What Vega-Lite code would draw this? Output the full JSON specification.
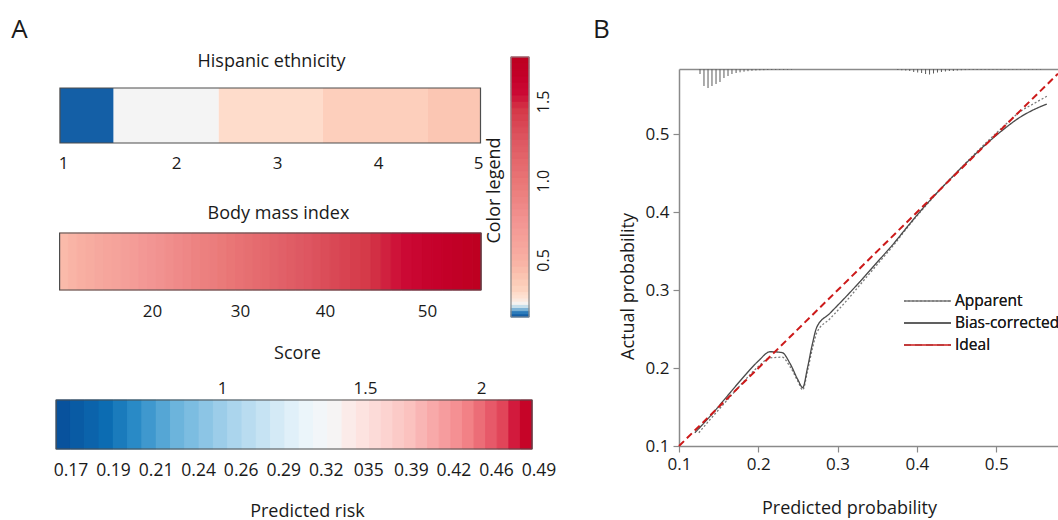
{
"$schema": "https://vega.github.io/schema/vega-lite/v6.json",
"width": 1058, "height": 520,
"autosize": {"type": "none"},
"padding": 0,
"background": "white",
"datasets": {
 "hispanic": [
  {"cat":1,"x0":0.973,"x1":1.448,"v":0.15},
  {"cat":2,"x0":1.448,"x1":2.423,"v":0.225},
  {"cat":3,"x0":2.423,"x1":3.455,"v":0.29},
  {"cat":4,"x0":3.455,"x1":4.5,"v":0.34},
  {"cat":5,"x0":4.5,"x1":5.025,"v":0.39}
 ],
 "bmi": [
  {"bmi":10,"x0":9.5,"x1":10.5,"v":0.45},{"bmi":11,"x0":10.5,"x1":11.5,"v":0.48},{"bmi":12,"x0":11.5,"x1":12.5,"v":0.51},
  {"bmi":13,"x0":12.5,"x1":13.5,"v":0.54},{"bmi":14,"x0":13.5,"x1":14.5,"v":0.57},{"bmi":15,"x0":14.5,"x1":15.5,"v":0.60},
  {"bmi":16,"x0":15.5,"x1":16.5,"v":0.62},{"bmi":17,"x0":16.5,"x1":17.5,"v":0.65},{"bmi":18,"x0":17.5,"x1":18.5,"v":0.68},
  {"bmi":19,"x0":18.5,"x1":19.5,"v":0.71},{"bmi":20,"x0":19.5,"x1":20.5,"v":0.74},{"bmi":21,"x0":20.5,"x1":21.5,"v":0.77},
  {"bmi":22,"x0":21.5,"x1":22.5,"v":0.80},{"bmi":23,"x0":22.5,"x1":23.5,"v":0.83},{"bmi":24,"x0":23.5,"x1":24.5,"v":0.86},
  {"bmi":25,"x0":24.5,"x1":25.5,"v":0.89},{"bmi":26,"x0":25.5,"x1":26.5,"v":0.92},{"bmi":27,"x0":26.5,"x1":27.5,"v":0.94},
  {"bmi":28,"x0":27.5,"x1":28.5,"v":0.97},{"bmi":29,"x0":28.5,"x1":29.5,"v":1.00},{"bmi":30,"x0":29.5,"x1":30.5,"v":1.03},
  {"bmi":31,"x0":30.5,"x1":31.5,"v":1.06},{"bmi":32,"x0":31.5,"x1":32.5,"v":1.09},{"bmi":33,"x0":32.5,"x1":33.5,"v":1.12},
  {"bmi":34,"x0":33.5,"x1":34.5,"v":1.15},{"bmi":35,"x0":34.5,"x1":35.5,"v":1.18},{"bmi":36,"x0":35.5,"x1":36.5,"v":1.21},
  {"bmi":37,"x0":36.5,"x1":37.5,"v":1.24},{"bmi":38,"x0":37.5,"x1":38.5,"v":1.26},{"bmi":39,"x0":38.5,"x1":39.5,"v":1.29},
  {"bmi":40,"x0":39.5,"x1":40.5,"v":1.32},{"bmi":41,"x0":40.5,"x1":41.5,"v":1.35},{"bmi":42,"x0":41.5,"x1":42.5,"v":1.38},
  {"bmi":43,"x0":42.5,"x1":43.5,"v":1.41},{"bmi":44,"x0":43.5,"x1":44.5,"v":1.44},{"bmi":45,"x0":44.5,"x1":45.5,"v":1.47},
  {"bmi":46,"x0":45.5,"x1":46.5,"v":1.50},{"bmi":47,"x0":46.5,"x1":47.5,"v":1.53},{"bmi":48,"x0":47.5,"x1":48.5,"v":1.56},
  {"bmi":49,"x0":48.5,"x1":49.5,"v":1.59},{"bmi":50,"x0":49.5,"x1":50.5,"v":1.62},{"bmi":51,"x0":50.5,"x1":51.5,"v":1.64},
  {"bmi":52,"x0":51.5,"x1":52.5,"v":1.67},{"bmi":53,"x0":52.5,"x1":53.5,"v":1.70},{"bmi":54,"x0":53.5,"x1":54.5,"v":1.73},
  {"bmi":55,"x0":54.5,"x1":55.3,"v":1.76}
 ],
 "score": [
  {"s0":0.42,"s1":0.47,"score":0.445},{"s0":0.47,"s1":0.52,"score":0.495},{"s0":0.52,"s1":0.57,"score":0.545},
  {"s0":0.57,"s1":0.62,"score":0.595},{"s0":0.62,"s1":0.67,"score":0.645},{"s0":0.67,"s1":0.72,"score":0.695},
  {"s0":0.72,"s1":0.77,"score":0.745},{"s0":0.77,"s1":0.82,"score":0.795},{"s0":0.82,"s1":0.87,"score":0.845},
  {"s0":0.87,"s1":0.92,"score":0.895},{"s0":0.92,"s1":0.97,"score":0.945},{"s0":0.97,"s1":1.02,"score":0.995},
  {"s0":1.02,"s1":1.07,"score":1.045},{"s0":1.07,"s1":1.12,"score":1.095},{"s0":1.12,"s1":1.17,"score":1.145},
  {"s0":1.17,"s1":1.22,"score":1.195},{"s0":1.22,"s1":1.27,"score":1.245},{"s0":1.27,"s1":1.32,"score":1.295},
  {"s0":1.32,"s1":1.37,"score":1.345},{"s0":1.37,"s1":1.42,"score":1.395},{"s0":1.42,"s1":1.47,"score":1.445},
  {"s0":1.47,"s1":1.52,"score":1.495},{"s0":1.52,"s1":1.57,"score":1.545},{"s0":1.57,"s1":1.62,"score":1.595},
  {"s0":1.62,"s1":1.67,"score":1.645},{"s0":1.67,"s1":1.72,"score":1.695},{"s0":1.72,"s1":1.77,"score":1.745},
  {"s0":1.77,"s1":1.82,"score":1.795},{"s0":1.82,"s1":1.87,"score":1.845},{"s0":1.87,"s1":1.92,"score":1.895},
  {"s0":1.92,"s1":1.97,"score":1.945},{"s0":1.97,"s1":2.02,"score":1.995},{"s0":2.02,"s1":2.07,"score":2.045},
  {"s0":2.07,"s1":2.12,"score":2.095},{"s0":2.12,"s1":2.17,"score":2.145},{"s0":2.17,"s1":2.22,"score":2.195}
 ],
 "risk": [
  {"risk":"0.17"},{"risk":"0.19"},{"risk":"0.21"},{"risk":"0.24"},{"risk":"0.26"},{"risk":"0.29"},
  {"risk":"0.32"},{"risk":"035"},{"risk":"0.39"},{"risk":"0.42"},{"risk":"0.46"},{"risk":"0.49"}
 ],
 "legendbar": [
  {"lo":0.14,"hi":0.16,"v":0.15},{"lo":0.16,"hi":0.18,"v":0.17},{"lo":0.18,"hi":0.20,"v":0.19},{"lo":0.20,"hi":0.22,"v":0.21},
  {"lo":0.22,"hi":0.24,"v":0.23},{"lo":0.24,"hi":0.26,"v":0.25},{"lo":0.26,"hi":0.28,"v":0.27},{"lo":0.28,"hi":0.30,"v":0.29},
  {"lo":0.30,"hi":0.34,"v":0.32},{"lo":0.34,"hi":0.38,"v":0.36},{"lo":0.38,"hi":0.42,"v":0.40},{"lo":0.42,"hi":0.46,"v":0.44},
  {"lo":0.46,"hi":0.50,"v":0.48},{"lo":0.50,"hi":0.54,"v":0.52},{"lo":0.54,"hi":0.58,"v":0.56},{"lo":0.58,"hi":0.62,"v":0.60},
  {"lo":0.62,"hi":0.66,"v":0.64},{"lo":0.66,"hi":0.70,"v":0.68},{"lo":0.70,"hi":0.74,"v":0.72},{"lo":0.74,"hi":0.78,"v":0.76},
  {"lo":0.78,"hi":0.82,"v":0.80},{"lo":0.82,"hi":0.86,"v":0.84},{"lo":0.86,"hi":0.90,"v":0.88},{"lo":0.90,"hi":0.94,"v":0.92},
  {"lo":0.94,"hi":0.98,"v":0.96},{"lo":0.98,"hi":1.02,"v":1.00},{"lo":1.02,"hi":1.06,"v":1.04},{"lo":1.06,"hi":1.10,"v":1.08},
  {"lo":1.10,"hi":1.14,"v":1.12},{"lo":1.14,"hi":1.18,"v":1.16},{"lo":1.18,"hi":1.22,"v":1.20},{"lo":1.22,"hi":1.26,"v":1.24},
  {"lo":1.26,"hi":1.30,"v":1.28},{"lo":1.30,"hi":1.34,"v":1.32},{"lo":1.34,"hi":1.38,"v":1.36},{"lo":1.38,"hi":1.42,"v":1.40},
  {"lo":1.42,"hi":1.46,"v":1.44},{"lo":1.46,"hi":1.50,"v":1.48},{"lo":1.50,"hi":1.54,"v":1.52},{"lo":1.54,"hi":1.58,"v":1.56},
  {"lo":1.58,"hi":1.62,"v":1.60},{"lo":1.62,"hi":1.66,"v":1.64},{"lo":1.66,"hi":1.70,"v":1.68},{"lo":1.70,"hi":1.74,"v":1.72},
  {"lo":1.74,"hi":1.78,"v":1.76}
 ],
 "calib": [
  {"series":"Apparent","pred":0.125,"obs":0.117},{"series":"Apparent","pred":0.14,"obs":0.135},{"series":"Apparent","pred":0.16,"obs":0.158},
  {"series":"Apparent","pred":0.18,"obs":0.181},{"series":"Apparent","pred":0.20,"obs":0.202},{"series":"Apparent","pred":0.215,"obs":0.213},
  {"series":"Apparent","pred":0.23,"obs":0.214},{"series":"Apparent","pred":0.24,"obs":0.202},{"series":"Apparent","pred":0.25,"obs":0.183},
  {"series":"Apparent","pred":0.256,"obs":0.172},{"series":"Apparent","pred":0.262,"obs":0.196},{"series":"Apparent","pred":0.268,"obs":0.224},
  {"series":"Apparent","pred":0.274,"obs":0.246},{"series":"Apparent","pred":0.29,"obs":0.263},{"series":"Apparent","pred":0.31,"obs":0.285},
  {"series":"Apparent","pred":0.33,"obs":0.309},{"series":"Apparent","pred":0.35,"obs":0.333},{"series":"Apparent","pred":0.37,"obs":0.357},
  {"series":"Apparent","pred":0.39,"obs":0.383},{"series":"Apparent","pred":0.41,"obs":0.407},{"series":"Apparent","pred":0.43,"obs":0.430},
  {"series":"Apparent","pred":0.45,"obs":0.451},{"series":"Apparent","pred":0.47,"obs":0.472},{"series":"Apparent","pred":0.49,"obs":0.492},
  {"series":"Apparent","pred":0.51,"obs":0.511},{"series":"Apparent","pred":0.53,"obs":0.529},{"series":"Apparent","pred":0.55,"obs":0.541},
  {"series":"Apparent","pred":0.564,"obs":0.549},
  {"series":"Bias-corrected","pred":0.12,"obs":0.117},{"series":"Bias-corrected","pred":0.14,"obs":0.139},{"series":"Bias-corrected","pred":0.16,"obs":0.163},
  {"series":"Bias-corrected","pred":0.18,"obs":0.187},{"series":"Bias-corrected","pred":0.20,"obs":0.209},{"series":"Bias-corrected","pred":0.215,"obs":0.221},
  {"series":"Bias-corrected","pred":0.23,"obs":0.220},{"series":"Bias-corrected","pred":0.24,"obs":0.206},{"series":"Bias-corrected","pred":0.25,"obs":0.185},
  {"series":"Bias-corrected","pred":0.256,"obs":0.175},{"series":"Bias-corrected","pred":0.262,"obs":0.200},{"series":"Bias-corrected","pred":0.268,"obs":0.230},
  {"series":"Bias-corrected","pred":0.274,"obs":0.253},{"series":"Bias-corrected","pred":0.29,"obs":0.270},{"series":"Bias-corrected","pred":0.31,"obs":0.291},
  {"series":"Bias-corrected","pred":0.33,"obs":0.313},{"series":"Bias-corrected","pred":0.35,"obs":0.336},{"series":"Bias-corrected","pred":0.37,"obs":0.359},
  {"series":"Bias-corrected","pred":0.39,"obs":0.384},{"series":"Bias-corrected","pred":0.41,"obs":0.408},{"series":"Bias-corrected","pred":0.43,"obs":0.430},
  {"series":"Bias-corrected","pred":0.45,"obs":0.451},{"series":"Bias-corrected","pred":0.47,"obs":0.471},{"series":"Bias-corrected","pred":0.49,"obs":0.490},
  {"series":"Bias-corrected","pred":0.51,"obs":0.507},{"series":"Bias-corrected","pred":0.53,"obs":0.522},{"series":"Bias-corrected","pred":0.55,"obs":0.533},
  {"series":"Bias-corrected","pred":0.564,"obs":0.539}
 ],
 "ideal": [
  {"series":"Ideal","pred":0.1,"obs":0.1},{"series":"Ideal","pred":0.578,"obs":0.578}
 ],
 "rug": [
  {"pos":0.1265,"freq":5},{"pos":0.1315,"freq":17},{"pos":0.1366,"freq":19},{"pos":0.1416,"freq":17},{"pos":0.1467,"freq":15},
  {"pos":0.1517,"freq":13},{"pos":0.1567,"freq":9},{"pos":0.1618,"freq":7},{"pos":0.1668,"freq":5},{"pos":0.172,"freq":4},
  {"pos":0.177,"freq":3.3},{"pos":0.182,"freq":2.7},{"pos":0.187,"freq":2.2},{"pos":0.192,"freq":1.8},{"pos":0.197,"freq":1.5},
  {"pos":0.202,"freq":1.3},{"pos":0.207,"freq":1.2},{"pos":0.212,"freq":1},{"pos":0.217,"freq":1},{"pos":0.222,"freq":0.9},
  {"pos":0.227,"freq":0.8},{"pos":0.232,"freq":0.8},{"pos":0.237,"freq":0.7},{"pos":0.242,"freq":0.6},
  {"pos":0.376,"freq":1},{"pos":0.381,"freq":1.3},{"pos":0.386,"freq":1.6},{"pos":0.391,"freq":2},{"pos":0.396,"freq":3},
  {"pos":0.401,"freq":3.5},{"pos":0.406,"freq":4},{"pos":0.411,"freq":5},{"pos":0.416,"freq":5.5},{"pos":0.421,"freq":4.5},
  {"pos":0.426,"freq":3.5},{"pos":0.431,"freq":3},{"pos":0.436,"freq":2.5},{"pos":0.441,"freq":2},{"pos":0.446,"freq":2},
  {"pos":0.451,"freq":1.6},{"pos":0.456,"freq":1.3},{"pos":0.461,"freq":1.1},{"pos":0.466,"freq":1},{"pos":0.471,"freq":0.9},
  {"pos":0.476,"freq":0.9},{"pos":0.481,"freq":0.8},{"pos":0.486,"freq":0.8},{"pos":0.491,"freq":0.8},{"pos":0.496,"freq":0.7},
  {"pos":0.501,"freq":0.7},{"pos":0.506,"freq":0.7},{"pos":0.511,"freq":0.6},{"pos":0.516,"freq":0.6},{"pos":0.521,"freq":0.6},
  {"pos":0.526,"freq":0.6},{"pos":0.531,"freq":0.5},{"pos":0.536,"freq":0.5},{"pos":0.541,"freq":0.5},{"pos":0.546,"freq":0.5},
  {"pos":0.551,"freq":0.5},{"pos":0.556,"freq":0.5}
 ]
},
"layer": [
 {
  "data": {"name": "hispanic"},
  "layer": [
   {"mark": {"type": "rect", "strokeWidth": 1},
    "encoding": {
     "x": {"field": "x0", "type": "quantitative",
       "scale": {"domain": [1,2,3,4,5], "range": [63,176,277,378,478], "nice": false, "zero": false},
       "axis": {"orient": "bottom", "offset": -357, "values": [1,2,3,4,5], "format": "d", "domain": false, "ticks": false,
         "labelPadding": 0, "labelBaseline": "middle", "labelFlush": false,
         "title": "Hispanic ethnicity", "titleX": 271, "titleY": -102, "titleBaseline": "middle", "titleAlign": "center"}},
     "x2": {"field": "x1"},
     "y": {"datum": 0, "type": "quantitative", "scale": {"domain": [0,1], "range": [143,88], "nice": false, "zero": false},
       "axis": {"orient": "left", "offset": 0, "labels": false, "ticks": false, "domain": false,
         "title": "A", "titleX": 19, "titleY": 29, "titleAngle": 0, "titleFontSize": 26, "titleBaseline": "middle", "titleAlign": "center"}},
     "y2": {"datum": 1},
     "color": {"field": "v", "type": "quantitative",
       "scale": {"domain": [0.14,0.17,0.2,0.225,0.26,0.32,0.4,0.5,0.75,1.0,1.25,1.45,1.55,1.65,1.78],
                 "range": ["#08519c","#2b7bba","#a7cfe4","#f4f4f4","#fee4d6","#fdd3bf","#fbc4b1","#f8b0a3","#f29492","#e97676","#de5862","#d43848","#cc0a35","#c4002a","#bd001f"],
                 "interpolate": "rgb"},
       "legend": null}
    }},
   {"mark": {"type": "rect", "fill": "transparent", "stroke": "#4d4d4d", "strokeWidth": 1.2},
    "encoding": {
     "x": {"aggregate": "min", "field": "x0", "type": "quantitative"},
     "x2": {"aggregate": "max", "field": "x1"},
     "y": {"datum": 0, "type": "quantitative"},
     "y2": {"datum": 1}
    }}
  ]
 },
 {
  "data": {"name": "bmi"},
  "layer": [
   {"mark": {"type": "rect", "strokeWidth": 1},
    "encoding": {
     "x": {"field": "x0", "type": "quantitative",
       "scale": {"domain": [20,30,40,50], "range": [152,240,325,427], "nice": false, "zero": false},
       "axis": {"orient": "bottom", "offset": -209, "values": [20,30,40,50], "format": "d", "domain": false, "ticks": false,
         "labelPadding": 0, "labelBaseline": "middle", "labelFlush": false,
         "title": "Body mass index", "titleX": 278, "titleY": -98, "titleBaseline": "middle", "titleAlign": "center"}},
     "x2": {"field": "x1"},
     "y": {"datum": 0, "type": "quantitative", "scale": {"domain": [0,1], "range": [290,233], "nice": false, "zero": false}, "axis": null},
     "y2": {"datum": 1},
     "color": {"field": "v", "type": "quantitative",
       "scale": {"domain": [0.14,0.17,0.2,0.225,0.26,0.32,0.4,0.5,0.75,1.0,1.25,1.45,1.55,1.65,1.78],
                 "range": ["#08519c","#2b7bba","#a7cfe4","#f4f4f4","#fee4d6","#fdd3bf","#fbc4b1","#f8b0a3","#f29492","#e97676","#de5862","#d43848","#cc0a35","#c4002a","#bd001f"],
                 "interpolate": "rgb"},
       "legend": null},
     "stroke": {"field": "v", "type": "quantitative",
       "scale": {"domain": [0.14,0.17,0.2,0.225,0.26,0.32,0.4,0.5,0.75,1.0,1.25,1.45,1.55,1.65,1.78],
                 "range": ["#08519c","#2b7bba","#a7cfe4","#f4f4f4","#fee4d6","#fdd3bf","#fbc4b1","#f8b0a3","#f29492","#e97676","#de5862","#d43848","#cc0a35","#c4002a","#bd001f"],
                 "interpolate": "rgb"},
       "legend": null}
    }},
   {"mark": {"type": "rect", "fill": "transparent", "stroke": "#4d4d4d", "strokeWidth": 1.2},
    "encoding": {
     "x": {"aggregate": "min", "field": "x0", "type": "quantitative"},
     "x2": {"aggregate": "max", "field": "x1"},
     "y": {"datum": 0, "type": "quantitative", "axis": null},
     "y2": {"datum": 1}
    }}
  ]
 },
 {
  "data": {"name": "score"},
  "layer": [
   {"mark": {"type": "rect", "strokeWidth": 1},
    "encoding": {
     "x": {"field": "s0", "type": "quantitative",
       "scale": {"domain": [1,1.5,2], "range": [222,365,481], "nice": false, "zero": false},
       "axis": {"orient": "top", "offset": -388, "values": [1,1.5,2], "format": "~g", "domain": false, "ticks": false,
         "labelPadding": 0, "labelBaseline": "middle", "labelFlush": false,
         "title": "Score", "titleX": 297, "titleY": -35, "titleBaseline": "middle", "titleAlign": "center"}},
     "x2": {"field": "s1"},
     "y": {"datum": 0, "type": "quantitative", "scale": {"domain": [0,1], "range": [449,400], "nice": false, "zero": false}, "axis": null},
     "y2": {"datum": 1},
     "color": {"field": "score", "type": "quantitative",
       "scale": {"domain": [0.44,0.6,0.7,0.85,1.03,1.22,1.32,1.39,1.47,1.69,1.93,2.11,2.16,2.22],
                 "range": ["#08519c","#0c6db3","#2b8cc7","#6eb5dd","#a7d3ec","#dbeef8","#f0f7fb","#f5f5f5","#fde7e4","#fbc3c0","#f4878b","#df3f55","#cc0a33","#c20020"],
                 "interpolate": "rgb"},
       "legend": null},
     "stroke": {"field": "score", "type": "quantitative",
       "scale": {"domain": [0.44,0.6,0.7,0.85,1.03,1.22,1.32,1.39,1.47,1.69,1.93,2.11,2.16,2.22],
                 "range": ["#08519c","#0c6db3","#2b8cc7","#6eb5dd","#a7d3ec","#dbeef8","#f0f7fb","#f5f5f5","#fde7e4","#fbc3c0","#f4878b","#df3f55","#cc0a33","#c20020"],
                 "interpolate": "rgb"},
       "legend": null}
    }},
   {"mark": {"type": "rect", "fill": "transparent", "stroke": "#4d4d4d", "strokeWidth": 1.2},
    "encoding": {
     "x": {"aggregate": "min", "field": "s0", "type": "quantitative"},
     "x2": {"aggregate": "max", "field": "s1"},
     "y": {"datum": 0, "type": "quantitative", "axis": null},
     "y2": {"datum": 1}
    }}
  ]
 },
 {
  "data": {"name": "risk"},
  "mark": {"type": "text", "fontSize": 17.5, "align": "center", "baseline": "middle", "color": "#1a1a1a"},
  "encoding": {
   "x": {"field": "risk", "type": "ordinal", "sort": null,
     "scale": {"type": "point", "range": [71,539], "padding": 0},
     "axis": {"orient": "bottom", "offset": -49, "labels": false, "ticks": false, "domain": false,
       "title": "Predicted risk", "titleX": 307, "titleY": 40, "titleBaseline": "middle", "titleAlign": "center"}},
   "y": {"datum": 0.5, "type": "quantitative", "scale": {"domain": [0,1], "range": [481,461], "nice": false, "zero": false}, "axis": null},
   "text": {"field": "risk"}
  }
 },
 {
  "data": {"name": "legendbar"},
  "layer": [
   {"mark": {"type": "rect", "strokeWidth": 1},
    "encoding": {
     "x": {"datum": 0, "type": "quantitative", "scale": {"domain": [0,1], "range": [511,529], "nice": false, "zero": false}, "axis": null},
     "x2": {"datum": 1},
     "y": {"field": "lo", "type": "quantitative",
       "scale": {"domain": [0.14,1.78], "range": [317,57], "nice": false, "zero": false},
       "axis": {"orient": "right", "offset": -529, "values": [0.5,1,1.5], "format": ".1f", "domain": false, "ticks": false,
         "labelAngle": -90, "labelAlign": "center", "labelBaseline": "top", "labelPadding": 6, "labelFontSize": 16,
         "title": "Color legend", "titleAngle": -90, "titleX": -35, "titleY": 190, "titleBaseline": "middle", "titleAlign": "center"}},
     "y2": {"field": "hi"},
     "color": {"field": "v", "type": "quantitative",
       "scale": {"domain": [0.14,0.17,0.2,0.225,0.26,0.32,0.4,0.5,0.75,1.0,1.25,1.45,1.55,1.65,1.78],
                 "range": ["#08519c","#2b7bba","#a7cfe4","#f4f4f4","#fee4d6","#fdd3bf","#fbc4b1","#f8b0a3","#f29492","#e97676","#de5862","#d43848","#cc0a35","#c4002a","#bd001f"],
                 "interpolate": "rgb"},
       "legend": null},
     "stroke": {"field": "v", "type": "quantitative",
       "scale": {"domain": [0.14,0.17,0.2,0.225,0.26,0.32,0.4,0.5,0.75,1.0,1.25,1.45,1.55,1.65,1.78],
                 "range": ["#08519c","#2b7bba","#a7cfe4","#f4f4f4","#fee4d6","#fdd3bf","#fbc4b1","#f8b0a3","#f29492","#e97676","#de5862","#d43848","#cc0a35","#c4002a","#bd001f"],
                 "interpolate": "rgb"},
       "legend": null}
    }},
   {"mark": {"type": "rect", "fill": "transparent", "stroke": "#8a8a8a", "strokeWidth": 1.2},
    "encoding": {
     "x": {"datum": 0, "type": "quantitative", "axis": null},
     "x2": {"datum": 1},
     "y": {"aggregate": "min", "field": "lo", "type": "quantitative"},
     "y2": {"aggregate": "max", "field": "hi"}
    }}
  ]
 },
 {
  "layer": [
   {
    "layer": [
     {"data": {"name": "calib"},
      "mark": {"type": "line", "interpolate": "monotone", "strokeWidth": 1.3, "clip": true},
      "encoding": {
       "x": {"field": "pred", "type": "quantitative",
         "scale": {"domain": [0.1,0.578], "range": [679,1058], "nice": false, "zero": false},
         "axis": {"orient": "bottom", "offset": -74, "values": [0.1,0.2,0.3,0.4,0.5], "format": ".1f",
           "domainColor": "#8a8a8a", "domainWidth": 1.5, "tickColor": "#8a8a8a", "tickWidth": 1.2, "tickSize": 6,
           "labelPadding": 4, "labelFlush": false,
           "title": "Predicted probability", "titleX": 849, "titleY": 62, "titleBaseline": "middle", "titleAlign": "center"}},
       "y": {"field": "obs", "type": "quantitative",
         "scale": {"domain": [0.1,0.584], "range": [446,69], "nice": false, "zero": false},
         "axis": {"orient": "left", "offset": -679, "values": [0.1,0.2,0.3,0.4,0.5], "format": ".1f",
           "domainColor": "#8a8a8a", "domainWidth": 1.5, "tickColor": "#8a8a8a", "tickWidth": 1.2, "tickSize": 6,
           "labelPadding": 4,
           "title": "Actual probability", "titleX": -51, "titleY": 286, "titleAngle": -90, "titleBaseline": "middle", "titleAlign": "center"}},
       "color": {"field": "series", "type": "nominal",
         "scale": {"domain": ["Apparent","Bias-corrected","Ideal"], "range": ["#7a7a7a","#4a4a4a","#cc1a1a"]},
         "legend": {"orient": "none", "legendX": 903, "legendY": 290, "title": null, "symbolType": "stroke", "symbolSize": 2209,
           "symbolStrokeWidth": 1.6, "clipHeight": 22, "rowPadding": 0, "padding": 0, "labelOffset": 3, "labelFontSize": 15.5,
           "labelColor": "#1a1a1a", "labelBaseline": "middle"}},
       "strokeDash": {"field": "series", "type": "nominal",
         "scale": {"domain": ["Apparent","Bias-corrected","Ideal"], "range": [[2,2],[1,0],[7,4]]},
         "legend": {"orient": "none", "legendX": 903, "legendY": 290, "title": null, "symbolType": "stroke", "symbolSize": 2209,
           "symbolStrokeWidth": 1.6, "clipHeight": 22, "rowPadding": 0, "padding": 0, "labelOffset": 3, "labelFontSize": 15.5,
           "labelColor": "#1a1a1a", "labelBaseline": "middle"}}
      }},
     {"data": {"name": "ideal"},
      "mark": {"type": "line", "strokeWidth": 2, "clip": true},
      "encoding": {
       "x": {"field": "pred", "type": "quantitative",
         "scale": {"domain": [0.1,0.578], "range": [679,1058], "nice": false, "zero": false}},
       "y": {"field": "obs", "type": "quantitative",
         "scale": {"domain": [0.1,0.584], "range": [446,69], "nice": false, "zero": false}},
       "color": {"field": "series", "type": "nominal",
         "scale": {"domain": ["Apparent","Bias-corrected","Ideal"], "range": ["#7a7a7a","#4a4a4a","#cc1a1a"]}},
       "strokeDash": {"field": "series", "type": "nominal",
         "scale": {"domain": ["Apparent","Bias-corrected","Ideal"], "range": [[2,2],[1,0],[7,4]]}}
      }}
    ]
   },
   {"data": {"name": "rug"},
    "mark": {"type": "rule", "color": "#5a5a5a", "strokeWidth": 1},
    "encoding": {
     "x": {"field": "pos", "type": "quantitative",
       "scale": {"domain": [0.1,0.578], "range": [679,1058], "nice": false, "zero": false},
       "axis": {"orient": "top", "offset": -69, "labels": false, "ticks": false, "domainColor": "#8a8a8a", "domainWidth": 1.5,
         "title": "B", "titleX": 601, "titleY": -40, "titleAngle": 0, "titleFontSize": 26, "titleBaseline": "middle", "titleAlign": "center"}},
     "y": {"field": "freq", "type": "quantitative", "scale": {"domain": [0,20], "range": [69,89], "nice": false, "zero": false}, "axis": null},
     "y2": {"datum": 0}
    }}
  ],
  "resolve": {"scale": {"y": "independent"}}
 }
],
"resolve": {"scale": {"x": "independent", "y": "independent", "color": "independent", "stroke": "independent"}},
"config": {
 "font": "Open Sans",
 "view": {"stroke": null},
 "axis": {"grid": false, "labelFontSize": 17, "titleFontSize": 18, "titleFontWeight": "normal", "labelColor": "#1a1a1a", "titleColor": "#1a1a1a"}
}
}
